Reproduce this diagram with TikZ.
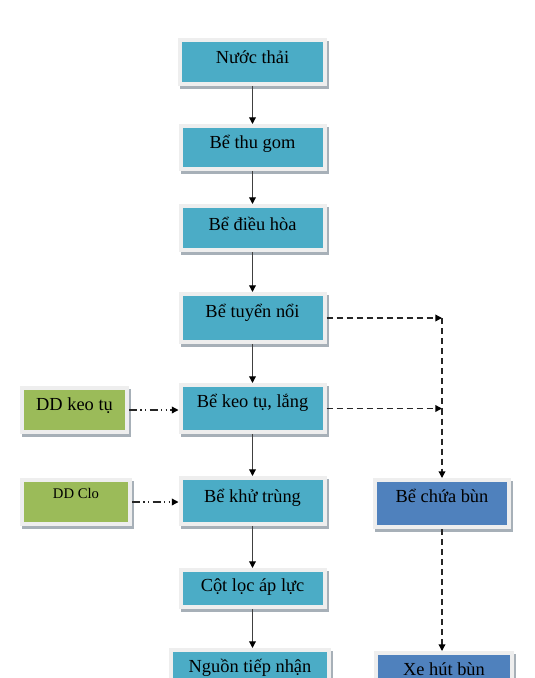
\documentclass[tikz,border=0pt]{standalone}
\usepackage{fontspec}
\setmainfont{Liberation Serif}
\usetikzlibrary{arrows.meta,shadows}
\definecolor{tealbox}{HTML}{4BACC6}
\definecolor{greenbox}{HTML}{9BBB59}
\definecolor{bluebox}{HTML}{4F81BD}
\definecolor{framec}{HTML}{EEEEEE}
\definecolor{shadowc}{HTML}{A7B0B8}
\tikzset{
  box/.style={draw=framec, line width=3pt, inner sep=0pt, outer sep=1.5pt,
    general shadow={fill=shadowc, draw=shadowc, line width=3pt, shadow xshift=1.5pt, shadow yshift=-2.25pt},
    font=\fontsize{13.8}{16}\selectfont, text=black},
  tbox/.style={box, fill=tealbox},
  gbox/.style={box, fill=greenbox},
  bbox/.style={box, fill=bluebox},
  sz/.style n args={4}{minimum width=#1*0.75pt, minimum height=#2*0.75pt, text height=#3pt, text depth=#4pt},
  flow/.style={draw=black!75, line width=0.9pt, -{Triangle[length=5pt,width=5pt,color=black]}},
  dflow/.style={draw=black!85, line width=1pt, dash pattern=on 4.5pt off 3pt, -{Triangle[length=5pt,width=5pt,color=black]}},
  dline/.style={draw=black!85, line width=1pt, dash pattern=on 4.5pt off 3pt},
  ddflow/.style={draw=black!85, line width=1pt, dash pattern=on 6pt off 2.5pt on 1pt off 2.5pt on 1pt off 2.5pt, -{Triangle[length=5pt,width=5pt,color=black]}}
}
\begin{document}
\begin{tikzpicture}[x=0.75pt,y=-0.75pt]
\useasboundingbox (0,0) rectangle (535,678);
\clip (0,0) rectangle (535,678);
% main column
\node[tbox, sz={145}{44}{4.75}{3.25}] (n1) at (252.5,62) {Nước thải};
\node[tbox, sz={144}{43}{4.4}{3.6}] (n2) at (252.5,147.5) {Bể thu gom};
\node[tbox, sz={144}{44}{5.5}{2.5}] (n3) at (252.5,228) {Bể điều hòa};
\node[tbox, sz={144}{48}{3.25}{4.75}] (n4) at (252.5,318) {Bể tuyển nổi};
\node[tbox, sz={144}{47}{3.6}{4.4}] (n5) at (252.5,408.5) {Bể keo tụ, lắng};
\node[tbox, sz={144}{46}{4.75}{3.25}] (n6) at (252.5,501) {Bể khử trùng};
\node[tbox, sz={144}{37}{6.6}{1.4}] (n7) at (252.5,588.5) {Cột lọc áp lực};
\node[tbox, sz={158}{54}{0.25}{7.75}] (n8) at (250,677) {Nguồn tiếp nhận};
% left
\node[gbox, sz={105}{44}{4}{4}] (dd1) at (74.5,410) {DD keo tụ};
\node[gbox, sz={108}{44}{1}{7}, font=\fontsize{11}{13}\selectfont] (dd2) at (76,502) {DD Clo};
% right
\node[bbox, sz={134}{47}{3.6}{4.4}] (bun) at (442,503.5) {Bể chứa bùn};
\node[bbox, sz={136}{54}{0.25}{7.75}] (xe) at (444,680) {Xe hút bùn};
\coordinate (j1) at (442,318);
\coordinate (j2) at (442,408.5);
% connectors
\draw[flow] (n1) -- (n2);
\draw[flow] (n2) -- (n3);
\draw[flow] (n3) -- (n4);
\draw[flow] (n4) -- (n5);
\draw[flow] (n5) -- (n6);
\draw[flow] (n6) -- (n7);
\draw[flow] (n7.south) -- (n7.south |- n8.north);
\draw[dflow] (n4.east) -- (j1);
\draw[dflow] (n5.east) -- (j2);
\draw[dline] (j1) -- (j2);
\draw[dflow] (j2) -- (bun.north);
\draw[dflow] (bun.south) -- (bun.south |- xe.north);
\draw[ddflow] (dd1.east) -- (n5.west |- dd1.east);
\draw[ddflow] (dd2.east) -- (n6.west |- dd2.east);
\end{tikzpicture}
\end{document}
